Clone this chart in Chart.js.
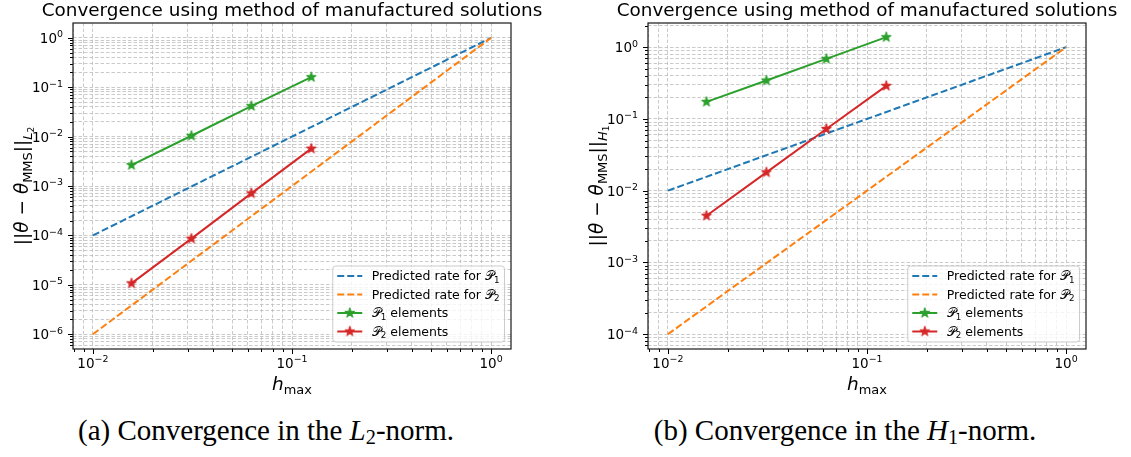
<!doctype html>
<html lang="en">
<head>
  <meta charset="utf-8">
  <title>MMS convergence</title>
  <script src="https://cdn.jsdelivr.net/npm/chart.js"></script>
  <style>
    html, body { margin: 0; padding: 0; background: #fff; overflow: hidden; }
    .panel { position: absolute; top: 0; }
    .caption {
      position: absolute; top: 416px;
      font-family: "Liberation Serif", serif; font-size: 29px; line-height: 29px;
      color: #000; white-space: nowrap; transform: translateX(-50%);
    }
    .caption sub { font-size: 0.7em; vertical-align: -0.22em; line-height: 0; }
  </style>
</head>
<body>
  <canvas id="chartL2" class="panel" width="556" height="400" style="left:0"></canvas>
  <canvas id="chartH1" class="panel" width="556" height="400" style="left:575px"></canvas>
  <div class="caption" style="left:266px">(a) Convergence in the <i>L</i><sub>2</sub>-norm.</div>
  <div class="caption" style="left:845px">(b) Convergence in the <i>H</i><sub>1</sub>-norm.</div>

  <script>
    // mesh sizes and errors
    const hPredicted = [0.01, 1];
    const hMesh      = [0.015625, 0.03125, 0.0625, 0.125];

    const l2RateP1 = [1e-4, 1];
    const l2RateP2 = [1e-6, 1];
    const l2ErrP1  = [2.65e-3, 1.04e-2, 4.15e-2, 0.16];
    const l2ErrP2  = [1.07e-5, 8.6e-5, 7.1e-4, 5.7e-3];

    const h1RateP1 = [1e-2, 1];
    const h1RateP2 = [1e-4, 1];
    const h1ErrP1  = [0.173, 0.343, 0.687, 1.38];
    const h1ErrP2  = [4.48e-3, 0.018, 0.0725, 0.289];

    const legendLabels = [
      [{t: 'Predicted rate for '}, {t: '\u{1D4AB}'}, {t: '1', lvl: 1}],
      [{t: 'Predicted rate for '}, {t: '\u{1D4AB}'}, {t: '2', lvl: 1}],
      [{t: '\u{1D4AB}'}, {t: '1', lvl: 1}, {t: ' elements'}],
      [{t: '\u{1D4AB}'}, {t: '2', lvl: 1}, {t: ' elements'}]
    ];
    const titleText = 'Convergence using method of manufactured solutions';

    const COLORS = ['#1f77b4', '#ff7f0e', '#2ca02c', '#d62728'];
    const FONT = '"DejaVu Sans", sans-serif';

    function starImage(color) {
      const c = document.createElement('canvas');
      c.width = c.height = 14;
      const g = c.getContext('2d');
      const R = 5.3, r = R * 0.382;
      g.translate(7, 7);
      g.beginPath();
      for (let i = 0; i < 10; i++) {
        const rad = i % 2 ? r : R;
        const a = -Math.PI / 2 + i * Math.PI / 5;
        g.lineTo(rad * Math.cos(a), rad * Math.sin(a));
      }
      g.closePath();
      g.fillStyle = color; g.fill();
      g.lineWidth = 1; g.strokeStyle = color; g.stroke();
      return c;
    }
    const STARS = [null, null, starImage(COLORS[2]), starImage(COLORS[3])];

    // log ticks at 1..9 x 10^k inside [min, max]
    function logTicks(min, max) {
      const out = [];
      for (let e = Math.floor(Math.log10(min)); e <= Math.ceil(Math.log10(max)); e++) {
        for (let m = 1; m <= 9; m++) {
          const v = m * Math.pow(10, e);
          if (v >= min && v <= max) out.push({value: v, major: m === 1});
        }
      }
      return out;
    }
    function powParts(value) {
      const e = Math.round(Math.log10(value));
      return [{t: '10'}, {t: (e < 0 ? '\u2212' : '') + Math.abs(e), up: true}];
    }

    // text with sub/superscript parts, baseline at y
    function drawRich(ctx, parts, x, y, size, align) {
      const scale = p => (p.up ? 0.7 : Math.pow(0.7, p.lvl || 0));
      const fontOf = p => (p.it ? 'italic ' : '') + (size * scale(p)) + 'px ' + FONT;
      let total = 0;
      parts.forEach(p => { ctx.font = fontOf(p); p.w = ctx.measureText(p.t).width; total += p.w; });
      let cx = align === 'center' ? x - total / 2 : align === 'right' ? x - total : x;
      parts.forEach(p => {
        const lvl = p.lvl || 0;
        let shift = lvl >= 1 ? size * 0.2 + (lvl - 1) * size * 0.12 : 0;
        if (p.up) shift = -size * 0.42;
        ctx.font = fontOf(p);
        ctx.fillText(p.t, cx, y + shift);
        cx += p.w;
      });
      return total;
    }

    const decorations = {
      id: 'decorations',
      afterDraw(chart, args, opts) {
        const {ctx, chartArea: a} = chart;
        const xs = chart.scales.x, ys = chart.scales.y;
        ctx.save();
        ctx.fillStyle = '#000';
        ctx.textBaseline = 'alphabetic';
        ctx.textAlign = 'left';

        // tick marks and decade labels
        ctx.strokeStyle = '#000';
        ctx.lineWidth = 1;
        ctx.beginPath();
        xs.ticks.forEach(t => {
          const px = Math.round(xs.getPixelForValue(t.value)) + 0.5;
          ctx.moveTo(px, a.bottom); ctx.lineTo(px, a.bottom + (t.major ? 5 : 3));
        });
        ys.ticks.forEach(t => {
          const py = Math.round(ys.getPixelForValue(t.value)) + 0.5;
          ctx.moveTo(a.left, py); ctx.lineTo(a.left - (t.major ? 5 : 3), py);
        });
        ctx.stroke();
        xs.ticks.filter(t => t.major).forEach(t => {
          drawRich(ctx, powParts(t.value), xs.getPixelForValue(t.value), a.bottom + 19, 13.5, 'center');
        });
        ys.ticks.filter(t => t.major).forEach(t => {
          drawRich(ctx, powParts(t.value), a.left - 10, ys.getPixelForValue(t.value) + 5, 13.5, 'right');
        });

        // frame
        ctx.strokeStyle = '#1a1a1a';
        ctx.lineWidth = 1.2;
        ctx.strokeRect(a.left, a.top, a.right - a.left, a.bottom - a.top);

        // title and axis labels
        const cx = (a.left + a.right) / 2, cy = (a.top + a.bottom) / 2;
        drawRich(ctx, [{t: titleText}], cx, a.top - 7, 18.4, 'center');
        drawRich(ctx, [{t: 'h', it: true}, {t: 'max', lvl: 1}], cx, a.bottom + 41, 18.5, 'center');
        ctx.save();
        ctx.translate(a.left - 45, cy);
        ctx.rotate(-Math.PI / 2);
        drawRich(ctx, [
          {t: '||'}, {t: '\u03B8', it: true}, {t: ' \u2212 '}, {t: '\u03B8', it: true},
          {t: 'MMS', lvl: 1}, {t: '||'}, {t: opts.norm, it: true, lvl: 1}, {t: opts.normSub, lvl: 2}
        ], 0, 0, 18.5, 'center');
        ctx.restore();

        // legend, lower right
        const fs = 12.5, pitch = 18.5;
        let textW = 0;
        legendLabels.forEach(parts => {
          let w = 0;
          parts.forEach(p => { ctx.font = (fs * Math.pow(0.7, p.lvl || 0)) + 'px ' + FONT; w += ctx.measureText(p.t).width; });
          textW = Math.max(textW, w);
        });
        const boxW = 4.5 + 25 + 9.5 + textW + 5;
        const boxH = 76;
        const bx = a.right - 6.5 - boxW, by = a.bottom - 7 - boxH;
        ctx.beginPath();
        ctx.roundRect(bx, by, boxW, boxH, 3);
        ctx.fillStyle = 'rgba(255,255,255,0.8)';
        ctx.fill();
        ctx.strokeStyle = '#cccccc';
        ctx.lineWidth = 1;
        ctx.stroke();
        legendLabels.forEach((parts, i) => {
          const ry = by + 10 + i * pitch;
          const hx = bx + 4.5;
          ctx.strokeStyle = COLORS[i];
          ctx.lineWidth = 2;
          ctx.setLineDash(i < 2 ? [7, 3] : []);
          ctx.beginPath(); ctx.moveTo(hx, ry); ctx.lineTo(hx + 25, ry); ctx.stroke();
          ctx.setLineDash([]);
          if (STARS[i]) ctx.drawImage(STARS[i], hx + 12.5 - 7, ry - 7);
          ctx.fillStyle = '#000';
          drawRich(ctx, parts, hx + 25 + 9.5, ry + 4.4, fs, 'left');
        });
        ctx.restore();
      }
    };

    function makeChart(id, yMin, yMax, rateP1, rateP2, errP1, errP2, norm, normSub) {
      const xMin = Math.pow(10, -2.1), xMax = Math.pow(10, 0.1);
      const pts = (xs, ys) => xs.map((x, i) => ({x: x, y: ys[i]}));
      const lineSet = (data, i) => ({
        data: data,
        borderColor: COLORS[i],
        backgroundColor: COLORS[i],
        borderWidth: 2,
        borderDash: i < 2 ? [7, 3] : [],
        pointRadius: i < 2 ? 0 : 6,
        pointStyle: STARS[i] || 'circle',
        order: 4 - i,
        tension: 0
      });
      const gridOpts = {color: '#bdbdbd', lineWidth: 0.8, drawTicks: false};
      return new Chart(document.getElementById(id), {
        type: 'line',
        data: {
          datasets: [
            lineSet(pts(hPredicted, rateP1), 0),
            lineSet(pts(hPredicted, rateP2), 1),
            lineSet(pts(hMesh, errP1), 2),
            lineSet(pts(hMesh, errP2), 3)
          ]
        },
        options: {
          responsive: false,
          animation: false,
          devicePixelRatio: 1,
          events: [],
          layout: {padding: {left: 0, top: 23, right: 45, bottom: 31}},
          plugins: {
            legend: {display: false},
            tooltip: {enabled: false},
            decorations: {norm: norm, normSub: normSub}
          },
          scales: {
            x: {
              type: 'logarithmic',
              min: xMin, max: xMax, bounds: 'data',
              afterBuildTicks: s => { s.ticks = logTicks(xMin, xMax); },
              afterFit: s => { s.height = 20; },
              grid: gridOpts,
              border: {display: false, dash: [3.5, 2]},
              ticks: {display: false, autoSkip: false, maxRotation: 0, minRotation: 0}
            },
            y: {
              type: 'logarithmic',
              min: yMin, max: yMax, bounds: 'data',
              afterBuildTicks: s => { s.ticks = logTicks(yMin, yMax); },
              afterFit: s => { s.width = 73; },
              grid: gridOpts,
              border: {display: false, dash: [3.5, 2]},
              ticks: {display: false, autoSkip: false}
            }
          }
        },
        plugins: [decorations]
      });
    }

    makeChart('chartL2', Math.pow(10, -6.3), Math.pow(10, 0.3),
              l2RateP1, l2RateP2, l2ErrP1, l2ErrP2, 'L', '2');
    makeChart('chartH1', Math.pow(10, -4.2065), Math.pow(10, 0.337),
              h1RateP1, h1RateP2, h1ErrP1, h1ErrP2, 'H', '1');
  </script>
</body>
</html>
